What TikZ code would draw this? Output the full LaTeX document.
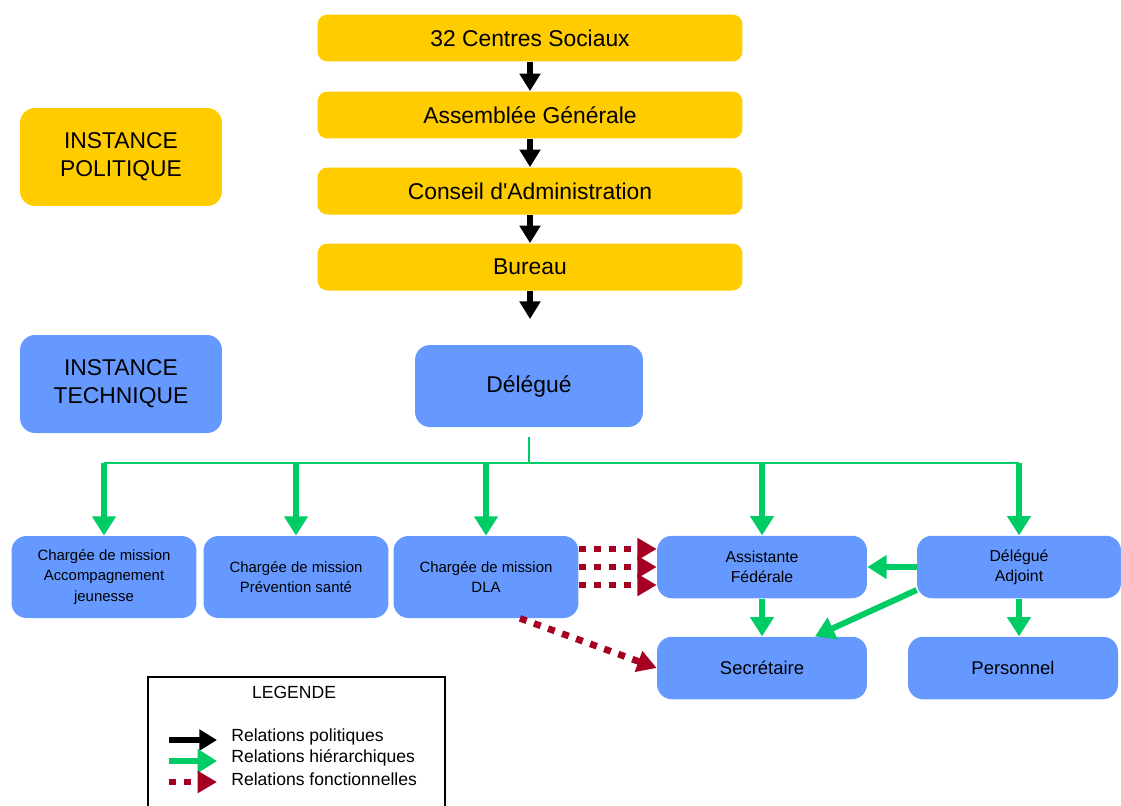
\documentclass[tikz,border=0pt]{standalone}
\usepackage{fontspec}
\setmainfont{Liberation Sans}
\usetikzlibrary{arrows.meta}
\definecolor{jaune}{RGB}{255,204,0}
\definecolor{bleu}{RGB}{102,153,255}
\definecolor{vert}{RGB}{0,204,102}
\definecolor{bordeaux}{RGB}{165,0,33}
\tikzset{
	politique/.style={fill=jaune, rounded corners=0.2cm, minimum width=8.5cm, minimum height=0.94cm, inner sep=0pt, font=\fontsize{13}{15}\selectfont},
	instance/.style={rounded corners=0.3cm, minimum width=4.04cm, minimum height=1.96cm, inner sep=0pt, align=center, font=\fontsize{13}{16}\selectfont},
	poste/.style={fill=bleu, rounded corners=0.3cm, inner sep=0pt, align=center, font=\fontsize{8.5}{11.5}\selectfont},
	relpol/.style={draw=black, line width=3.4pt, -{Triangle[width=11.5pt,length=10pt]}},
	relhier/.style={draw=vert, line width=3.4pt, -{Triangle[width=13pt,length=11pt]}},
	relfonc/.style={draw=bordeaux, line width=3.8pt, dash pattern=on 4pt off 4.5pt, -{Triangle[width=12pt,length=11pt]}},
}
\begin{document}
\begin{tikzpicture}[x=0.02cm,y=-0.02cm]
	\useasboundingbox (0,0) rectangle (1121,805);
	% instance politique
	\node[politique] (centres) at (530,38) {32 Centres Sociaux};
	\node[politique] (ag) at (530,115) {Assemblée Générale};
	\node[politique] (ca) at (530,191) {Conseil d\textquotesingle Administration};
	\node[politique] (bureau) at (530,267) {Bureau};
	\coordinate (bureaufin) at (530,319);
	\draw[relpol] (centres) -- (ag);
	\draw[relpol] (ag) -- (ca);
	\draw[relpol] (ca) -- (bureau);
	\draw[relpol] (bureau) -- (bureaufin);
	\node[instance, fill=jaune] (ipol) at (121,157) {INSTANCE\\POLITIQUE};
	\node[instance, fill=bleu] (itech) at (121,384) {INSTANCE\\TECHNIQUE};
	% instance technique
	\node[poste, minimum width=4.56cm, minimum height=1.64cm, font=\fontsize{13}{15}\selectfont] (delegue) at (529,386) {Délégué};
	\begin{scope}[poste/.append style={minimum width=3.7cm, minimum height=1.64cm}]
		\node[poste] (acc) at (104,577) {Chargée de mission\\Accompagnement\\jeunesse};
		\node[poste] (prev) at (296,577) {Chargée de mission\\Prévention santé};
		\node[poste] (dla) at (486,577) {Chargée de mission\\DLA};
	\end{scope}
	\begin{scope}[poste/.append style={minimum width=4.2cm, minimum height=1.25cm}]
		\node[poste, font=\fontsize{9}{11.5}\selectfont] (assist) at (762,567) {Assistante\\Fédérale};
		\node[poste, minimum width=4.08cm, font=\fontsize{9}{11.5}\selectfont] (adjoint) at (1019,567) {Délégué\\Adjoint};
		\node[poste, font=\fontsize{10.5}{12}\selectfont] (secr) at (762,668) {Secrétaire};
		\node[poste, font=\fontsize{10.5}{12}\selectfont] (perso) at (1013,668) {Personnel};
	\end{scope}
	% relations hierarchiques
	\coordinate (bushaut) at (529,437);
	\coordinate (bus) at (529,463);
	\draw[vert, line width=1.1pt] (bushaut) -- (bus);
	\draw[vert, line width=1.1pt] (acc.north |- bus) -- (adjoint.north |- bus);
	\foreach \n in {acc,prev,dla,assist,adjoint}
		\draw[relhier] (\n.north |- bus) -- (\n.north);
	\draw[relhier] (assist) -- (secr);
	\draw[relhier] (adjoint.west) -- (assist.east);
	\draw[relhier] ([yshift=-0.46cm]adjoint.west) -- ([xshift=1.06cm]secr.north);
	\draw[relhier] (adjoint.south) -- (adjoint.south |- perso.north);
	% relations fonctionnelles
	\foreach \dy in {0.36,0,-0.36} {
		\path ([yshift=\dy cm]assist.west) coordinate (cible);
		\draw[relfonc] (cible -| dla.east) -- (cible);
	}
	\draw[relfonc] ([xshift=0.68cm]dla.south) -- (secr.west);
	% legende
	\draw[line width=1pt] (148,806) -- (148,677) -- (445,677) -- (445,806);
	\node[font=\fontsize{10}{12}\selectfont] (legende) at (294,692) {LEGENDE};
	\coordinate (lpa) at (169,740);
	\coordinate (lpb) at (217,740);
	\coordinate (lha) at (169,761);
	\coordinate (lhb) at (217,761);
	\coordinate (lfa) at (169,782);
	\coordinate (lfb) at (217,782);
	\draw[relpol] (lpa) -- (lpb);
	\draw[relhier] (lha) -- (lhb);
	\draw[relfonc] (lfa) -- (lfb);
	\begin{scope}[every node/.style={anchor=west, inner sep=0pt, font=\fontsize{10}{12}\selectfont}]
		\node (tpol) at (231,737) {Relations politiques};
		\node (thier) at (231,758) {Relations hiérarchiques};
		\node (tfonc) at (231,779) {Relations fonctionnelles};
	\end{scope}
\end{tikzpicture}
\end{document}
